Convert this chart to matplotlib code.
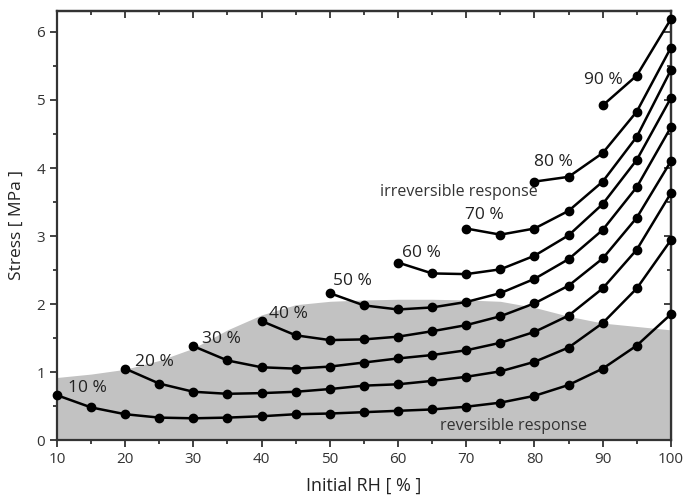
import matplotlib
matplotlib.use("Agg")
import matplotlib.pyplot as plt
from matplotlib.ticker import MultipleLocator

plt.rcParams['font.family'] = ['Open Sans', 'DejaVu Sans']

# Stress curves for each initial-RH step (start RH -> 100 %, every 5 %)
rh_steps = [10, 20, 30, 40, 50, 60, 70, 80, 90]
step_labels = ["10 %", "20 %", "30 %", "40 %", "50 %", "60 %", "70 %", "80 %", "90 %"]
stress_10 = [0.66, 0.48, 0.38, 0.33, 0.32, 0.33, 0.35, 0.38, 0.39, 0.41,
             0.43, 0.45, 0.49, 0.55, 0.65, 0.81, 1.05, 1.39, 1.85]
stress_20 = [1.05, 0.83, 0.71, 0.68, 0.69, 0.71, 0.75, 0.80, 0.82, 0.87,
             0.93, 1.01, 1.15, 1.36, 1.72, 2.23, 2.94]
stress_30 = [1.38, 1.17, 1.07, 1.05, 1.08, 1.14, 1.20, 1.25, 1.32, 1.43,
             1.59, 1.83, 2.23, 2.80, 3.63]
stress_40 = [1.75, 1.54, 1.47, 1.48, 1.52, 1.60, 1.69, 1.82, 2.01, 2.27,
             2.67, 3.27, 4.10]
stress_50 = [2.16, 1.98, 1.92, 1.95, 2.03, 2.16, 2.37, 2.66, 3.09, 3.72, 4.60]
stress_60 = [2.61, 2.45, 2.44, 2.51, 2.71, 3.01, 3.47, 4.12, 5.03]
stress_70 = [3.11, 3.02, 3.11, 3.37, 3.80, 4.46, 5.44]
stress_80 = [3.80, 3.87, 4.22, 4.83, 5.77]
stress_90 = [4.92, 5.36, 6.19]
all_stress = [stress_10, stress_20, stress_30, stress_40, stress_50,
              stress_60, stress_70, stress_80, stress_90]
rh_step_width = 5

# Upper limit of the reversible region
limit_rh = [10, 15, 20, 25, 30, 35, 40, 45, 50, 55, 60, 65, 70, 75, 80, 85, 90, 95, 100]
limit_stress = [0.92, 0.97, 1.04, 1.17, 1.35, 1.62, 1.84, 1.99, 2.04, 2.06,
                2.07, 2.07, 2.06, 2.04, 1.95, 1.82, 1.72, 1.67, 1.62]

# Where each curve's label sits
label_pos = [(11.6, 0.77), (21.4, 1.15), (31.2, 1.49), (41.1, 1.86), (50.5, 2.34),
             (60.6, 2.75), (69.8, 3.31), (80.0, 4.09), (87.3, 5.29)]

fig = plt.figure(figsize=(6.86, 4.95), dpi=100)
ax = fig.add_axes([0.083, 0.111, 0.895, 0.867])

ax.fill_between(limit_rh, 0, limit_stress, color='#c2c2c2', linewidth=0, zorder=1)

for start, ys, lab, (tx, ty) in zip(rh_steps, all_stress, step_labels, label_pos):
    xs = [start + i * rh_step_width for i in range(len(ys))]
    ax.plot(xs, ys, color='black', linewidth=1.8, marker='o', markersize=6,
            zorder=3, clip_on=False)
    ax.text(tx, ty, lab, ha='left', va='center', fontsize=12.5, color='#222222', zorder=4)

ax.text(57.3, 3.65, "irreversible response", ha='left', va='center',
        fontsize=11.5, color='#333333')
ax.text(66.1, 0.20, "reversible response", ha='left', va='center',
        fontsize=11.5, color='#333333')

ax.set_xlim(10, 100)
ax.set_ylim(0, 6.31)
ax.xaxis.set_major_locator(MultipleLocator(10))
ax.xaxis.set_minor_locator(MultipleLocator(5))
ax.yaxis.set_major_locator(MultipleLocator(1))
ax.yaxis.set_minor_locator(MultipleLocator(0.5))

ax.tick_params(which='both', direction='out', top=False, right=False,
               colors='#333333', labelsize=11, width=1.3)
ax.tick_params(which='major', length=5)
ax.tick_params(which='minor', length=3)

# inward ticks on the top and right frame
ax2 = ax.secondary_xaxis('top')
ax2.xaxis.set_major_locator(MultipleLocator(10))
ax2.xaxis.set_minor_locator(MultipleLocator(5))
ax2.tick_params(which='both', direction='in', labeltop=False, colors='#333333', width=1.3)
ax2.tick_params(which='major', length=5)
ax2.tick_params(which='minor', length=3)
ax3 = ax.secondary_yaxis('right')
ax3.yaxis.set_major_locator(MultipleLocator(1))
ax3.yaxis.set_minor_locator(MultipleLocator(0.5))
ax3.tick_params(which='both', direction='in', labelright=False, colors='#333333', width=1.3)
ax3.tick_params(which='major', length=5)
ax3.tick_params(which='minor', length=3)

for sp in list(ax.spines.values()) + [ax2.spines['top'], ax3.spines['right']]:
    sp.set_linewidth(1.6)
    sp.set_color('#333333')

ax.set_xlabel("Initial RH [ % ]", fontsize=13, color='#222222', labelpad=7)
ax.set_ylabel("Stress [ MPa ]", fontsize=12.5, color='#222222', labelpad=8)

fig.savefig("out.png", dpi=100)
